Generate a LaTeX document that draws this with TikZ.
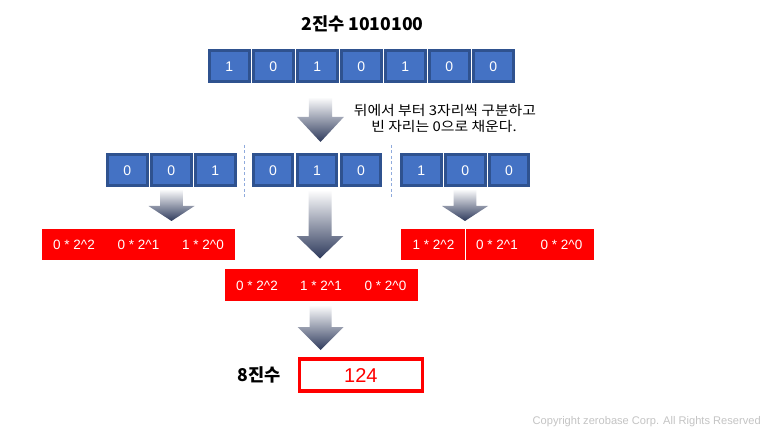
\documentclass[tikz,border=0pt]{standalone}
\usepackage{fontspec}
\setmainfont{Liberation Sans}
\newfontfamily\kr{Noto Sans CJK KR}
\newfontfamily\krwide[FakeStretch=1.1]{Noto Sans CJK KR}
\definecolor{bitfill}{HTML}{4472C4}
\definecolor{bitline}{HTML}{2F528F}
\definecolor{arrowdark}{HTML}{2E3A5C}
\definecolor{arrowmid}{HTML}{B9BFCE}
\definecolor{sepline}{HTML}{8FAADC}
\definecolor{copygray}{HTML}{C4C4C4}
\newcommand\blockarrow[6]{%
  \shade[top color=white, middle color=arrowmid, bottom color=arrowdark]
    (#1-#5,#2) -- (#1+#5,#2) -- (#1+#5,#3) -- (#1+#6,#3) -- (#1,#4)
    -- (#1-#6,#3) -- (#1-#5,#3) -- cycle;}
\tikzset{
  bitbox/.style={draw=bitline, fill=bitfill, line width=3pt,
    minimum width=39.5pt, minimum height=30.4pt, inner sep=0pt,
    text=white, font=\fontsize{14}{16}\selectfont,
    text height=11.2pt, text depth=0pt},
  redbox/.style={fill=red, inner sep=0pt},
  redtext/.style={text=white, inner sep=0pt, font=\fontsize{13.5}{16}\selectfont,
    text height=10.8pt, text depth=0pt},
  title/.style={font=\kr\bfseries\fontsize{17.6}{20}\selectfont, anchor=base, inner sep=0pt},
  note/.style={font=\krwide\fontsize{13.5}{15}\selectfont, anchor=base, inner sep=0pt},
  sep/.style={draw=sepline, line width=1pt, dash pattern=on 3pt off 2.5pt},
}
\begin{document}
\begin{tikzpicture}[x=1pt,y=-1pt]
\fill[white] (0,0) rectangle (769,433);
\useasboundingbox (0,0) rectangle (769,433);

% title
\node[title] (t) at (362.5,30.7) {2진수 1010100};

% top bits
\foreach \b [count=\i from 0] in {1,0,1,0,1,0,0}{
  \node[bitbox] (top\i) at (229.25+44*\i,66) {\b};
}

% arrow 1 and note
\blockarrow{320.5}{97}{117}{142}{11.7}{23.3}
\node[note] (n1) at (445,115.5) {뒤에서 부터 3자리씩 구분하고};
\node[note] (n2) at (444,131.5) {빈 자리는 0으로 채운다.};

% row 2 bits
\node[bitbox] (a1) at (127.25,170) {0};
\node[bitbox] (a2) at (171.25,170) {0};
\node[bitbox] (a3) at (215.25,170) {1};
\node[bitbox] (b1) at (273,170) {0};
\node[bitbox] (b2) at (317,170) {1};
\node[bitbox] (b3) at (361,170) {0};
\node[bitbox] (c1) at (421.25,170) {1};
\node[bitbox] (c2) at (465.25,170) {0};
\node[bitbox] (c3) at (509,170) {0};

% separators
\draw[sep] (244,145) -- (244,197);
\draw[sep] (391.7,145) -- (391.7,197);

% arrows row 2
\blockarrow{171.5}{189}{206}{221}{11.3}{23}
\blockarrow{320}{190}{236}{258.5}{11.5}{23.3}
\blockarrow{465}{189}{206}{221}{11.3}{23}

% red boxes
\node[redbox, minimum width=193.3pt, minimum height=31.5pt] (rl) at (138.35,244.25) {};
\node[redtext] (l1) at (74,244.25) {0 * 2\textasciicircum 2};
\node[redtext] (l2) at (138.5,244.25) {0 * 2\textasciicircum 1};
\node[redtext] (l3) at (203,244.25) {1 * 2\textasciicircum 0};

\node[redbox, minimum width=193.3pt, minimum height=32pt] (rm) at (321.65,285) {};
\node[redtext] (m1) at (257,285) {0 * 2\textasciicircum 2};
\node[redtext] (m2) at (321,285) {1 * 2\textasciicircum 1};
\node[redtext] (m3) at (385.5,285) {0 * 2\textasciicircum 0};

\node[redbox, minimum width=193pt, minimum height=31.5pt] (rr) at (497.5,244.25) {};
\draw[white, line width=1pt] (465.3,228.5) -- (465.3,260);
\node[redtext] (r1) at (433.5,244.25) {1 * 2\textasciicircum 2};
\node[redtext] (r2) at (497,244.25) {0 * 2\textasciicircum 1};
\node[redtext] (r3) at (561.5,244.25) {0 * 2\textasciicircum 0};

% bottom arrow
\blockarrow{320.5}{305}{327}{350}{11}{23}

% result
\node[title] (oct) at (259,381.7) {8진수};
\node[draw=red, line width=3.3pt, minimum width=123pt, minimum height=32pt,
  inner sep=0pt, text=red, font=\fontsize{20}{22}\selectfont,
  text height=14.6pt, text depth=0pt] (res) at (360.85,375) {124};

% copyright
\node[anchor=base, inner sep=0pt, text=copygray, font=\fontsize{11.1}{12}\selectfont]
  (copy) at (646.7,424) {Copyright zerobase Corp. All Rights Reserved};
\end{tikzpicture}
\end{document}
